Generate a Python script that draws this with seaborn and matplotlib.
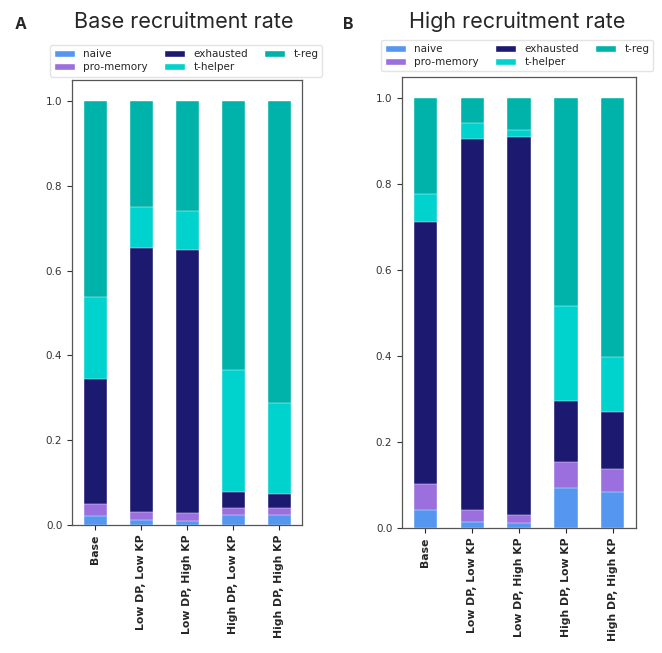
import matplotlib
matplotlib.use("Agg")
import matplotlib.pyplot as plt
from matplotlib.patches import Patch
import numpy as np
import pandas as pd
import seaborn as sns

scenarios = ["Base", "Low DP, Low KP", "Low DP, High KP", "High DP, Low KP", "High DP, High KP"]
cell_types = ["naive", "pro-memory", "exhausted", "t-helper", "t-reg"]
colors = ["#5597F0", "#9B6FDD", "#1B1A70", "#00D2CE", "#00B3AA"]

# Fraction of each cell type per scenario (stacked to 1.0)
base_naive = [0.022, 0.012, 0.009, 0.023, 0.024]
base_promem = [0.028, 0.018, 0.020, 0.016, 0.015]
base_exhausted = [0.294, 0.623, 0.621, 0.038, 0.034]
base_thelper = [0.193, 0.098, 0.090, 0.289, 0.216]
base_treg = [0.463, 0.249, 0.260, 0.634, 0.711]

high_naive = [0.043, 0.015, 0.012, 0.093, 0.085]
high_promem = [0.059, 0.028, 0.018, 0.060, 0.052]
high_exhausted = [0.610, 0.863, 0.880, 0.142, 0.132]
high_thelper = [0.066, 0.037, 0.017, 0.221, 0.129]
high_treg = [0.222, 0.057, 0.073, 0.484, 0.602]

panels = [
    ("A", "Base recruitment rate",
     [base_naive, base_promem, base_exhausted, base_thelper, base_treg]),
    ("B", "High recruitment rate",
     [high_naive, high_promem, high_exhausted, high_thelper, high_treg]),
]

sns.set_style("ticks")
plt.rcParams["font.family"] = ["DejaVu Sans"]

fig = plt.figure(figsize=(6.62, 6.53), dpi=100)
axes_rects = [[0.1088, 0.196, 0.3474, 0.6815], [0.6073, 0.1914, 0.3535, 0.6907]]
legend_anchor = [(0.0755, 0.931), (0.5755, 0.9387)]
title_x = [0.277, 0.781]
letter_x = [0.022, 0.518]

for (letter, title, series), rect, lanc, tx, lx in zip(panels, axes_rects, legend_anchor, title_x, letter_x):
    ax = fig.add_axes(rect)
    df = pd.DataFrame(np.array(series).T, columns=cell_types)
    cum = df[cell_types].cumsum(axis=1)
    # Draw cumulative totals from the top layer down so each segment shows
    for ct, col in reversed(list(zip(cell_types, colors))):
        sns.barplot(x=scenarios, y=cum[ct].values, color=col, width=0.5,
                    saturation=1, ax=ax, edgecolor="white", linewidth=0.3)
    ax.set_xlim(-0.5, 4.5)
    ax.set_ylim(0, 1.05)
    ax.set_yticks([0, 0.2, 0.4, 0.6, 0.8, 1.0])
    ax.set_yticklabels(["0.0", "0.2", "0.4", "0.6", "0.8", "1.0"])
    ax.tick_params(axis="y", labelsize=7.5, colors="#333333", length=3.5, width=0.8)
    ax.tick_params(axis="x", labelsize=7.8, length=3.5, width=0.8)
    for lab in ax.get_xticklabels():
        lab.set_rotation(90)
        lab.set_fontweight("bold")
    for sp in ax.spines.values():
        sp.set_visible(True)
        sp.set_color("#555555")
        sp.set_linewidth(0.9)
    ax.set_xlabel("")
    ax.set_ylabel("")

    handles = [Patch(facecolor=c, label=l) for l, c in zip(cell_types, colors)]
    fig.legend(handles=handles, ncol=3, loc="upper left", bbox_to_anchor=lanc,
               fontsize=7.5, frameon=True, handlelength=2.0, handleheight=0.7,
               columnspacing=1.55, borderaxespad=0, labelspacing=0.3,
               borderpad=0.4, edgecolor="#dddddd", fancybox=True)
    fig.text(tx, 0.966, title, ha="center", va="center", fontsize=15.5,
             family=["Inter", "DejaVu Sans"])
    fig.text(lx, 0.962, letter, ha="left", va="center", fontsize=11.5,
             fontweight="bold", family=["Inter", "DejaVu Sans"])

fig.savefig("out.png", dpi=100)
